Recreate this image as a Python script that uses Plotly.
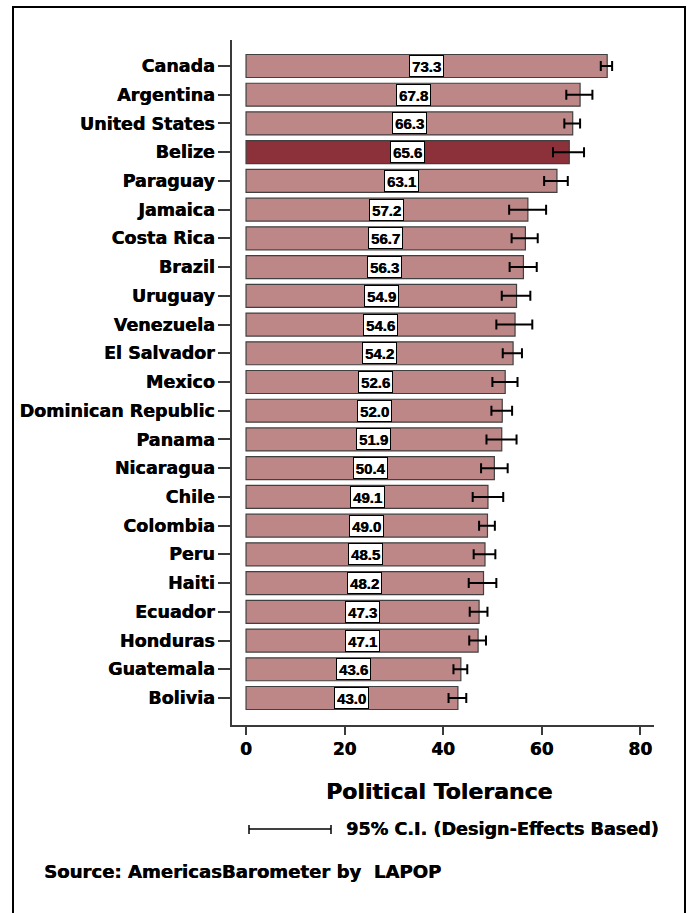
import plotly.graph_objects as go

countries = ["Canada", "Argentina", "United States", "Belize", "Paraguay", "Jamaica",
             "Costa Rica", "Brazil", "Uruguay", "Venezuela", "El Salvador", "Mexico",
             "Dominican Republic", "Panama", "Nicaragua", "Chile", "Colombia", "Peru",
             "Haiti", "Ecuador", "Honduras", "Guatemala", "Bolivia"]
values = [73.3, 67.8, 66.3, 65.6, 63.1, 57.2, 56.7, 56.3, 54.9, 54.6, 54.2, 52.6,
          52.0, 51.9, 50.4, 49.1, 49.0, 48.5, 48.2, 47.3, 47.1, 43.6, 43.0]
ci_low = [72.0, 65.0, 64.6, 62.3, 60.5, 53.4, 53.9, 53.5, 51.9, 50.8, 52.1, 50.0,
          49.8, 48.8, 47.7, 46.0, 47.3, 46.2, 45.2, 45.4, 45.3, 42.1, 41.1]
ci_high = [74.3, 70.3, 67.8, 68.6, 65.3, 60.9, 59.2, 59.0, 57.7, 58.1, 56.0, 55.1,
           54.0, 54.9, 53.1, 52.2, 50.5, 50.6, 50.8, 49.0, 48.7, 44.9, 44.7]
highlight = "Belize"
x_ticks = [0, 20, 40, 60, 80]

LIGHT = "#bd8687"
DARK = "#8c313a"
AXC = "#3a3a3a"

W, H = 689, 913
ML, MR, MT, MB = 232, 35, 40, 188
PW, PH = W - ML - MR, H - MT - MB


def px(x):
    return (x - ML) / PW


def py(y):
    return (H - MB - y) / PH


colors = [DARK if c == highlight else LIGHT for c in countries]
err_plus = [round(h - v, 2) for h, v in zip(ci_high, values)]
err_minus = [round(v - l, 2) for l, v in zip(ci_low, values)]

fig = go.Figure()
fig.add_trace(go.Bar(
    x=values, y=countries, orientation="h", width=0.8,
    marker=dict(color=colors, line=dict(color="#404040", width=1.2)),
    error_x=dict(type="data", symmetric=False, array=err_plus, arrayminus=err_minus,
                 color="black", thickness=2, width=5),
    hoverinfo="x+y", showlegend=False,
))

HEAVY = "0.45px 0px 0px black"
bold = dict(family="DejaVu Sans", weight="bold", color="black", shadow=HEAVY)

annotations = []
for c, v in zip(countries, values):
    annotations.append(dict(
        x=v / 2, y=c, xref="x", yref="y", text=f"{v:.1f}", showarrow=False,
        font=dict(family="Liberation Sans", size=15, weight="bold", color="black",
                  shadow=HEAVY),
        bgcolor="white", bordercolor="black", borderwidth=1, borderpad=1,
        width=31, height=18, xanchor="center", yanchor="middle",
    ))

annotations.append(dict(x=px(438.5), y=py(791), xref="paper", yref="paper",
                        text="Political Tolerance", showarrow=False,
                        font=dict(size=22, **bold), xanchor="center", yanchor="middle"))
annotations.append(dict(x=px(344), y=py(829), xref="paper", yref="paper",
                        text="95% C.I. (Design-Effects Based)", showarrow=False,
                        font=dict(size=17.6, **bold), xanchor="left", yanchor="middle"))
annotations.append(dict(x=px(42), y=py(871), xref="paper", yref="paper",
                        text="Source: AmericasBarometer by&nbsp; LAPOP", showarrow=False,
                        font=dict(size=18.1, **bold), xanchor="left", yanchor="middle"))

shapes = [
    # outer frame
    dict(type="rect", xref="paper", yref="paper", x0=px(13), x1=px(685),
         y0=py(935), y1=py(7), line=dict(color="black", width=2), layer="below"),
    # legend CI symbol
    dict(type="line", xref="paper", yref="paper", x0=px(249), x1=px(331),
         y0=py(829), y1=py(829), line=dict(color="black", width=1.5)),
    dict(type="line", xref="paper", yref="paper", x0=px(249), x1=px(249),
         y0=py(825), y1=py(834), line=dict(color="black", width=1.5)),
    dict(type="line", xref="paper", yref="paper", x0=px(331), x1=px(331),
         y0=py(825), y1=py(834), line=dict(color="black", width=1.5)),
]

fig.update_layout(
    width=W, height=H,
    margin=dict(l=ML, r=MR, t=MT, b=MB, autoexpand=False),
    paper_bgcolor="white", plot_bgcolor="white",
    annotations=annotations, shapes=shapes,
    bargap=0.2,
    xaxis=dict(range=[-2.85, 82.8], tickvals=x_ticks, ticktext=[str(t) for t in x_ticks],
               showgrid=False, zeroline=False, showline=True, linecolor=AXC, linewidth=2,
               ticks="outside", ticklen=8, tickwidth=2, tickcolor=AXC,
               tickfont=dict(size=17, **bold)),
    yaxis=dict(type="category", categoryorder="array", categoryarray=countries,
               range=[22.94, -0.905], showgrid=False, zeroline=False,
               showline=True, linecolor=AXC, linewidth=1.5,
               ticks="outside", ticklen=12, tickwidth=1.5, tickcolor=AXC,
               tickfont=dict(size=17.5, **bold)),
)

fig.write_html("out.html")
